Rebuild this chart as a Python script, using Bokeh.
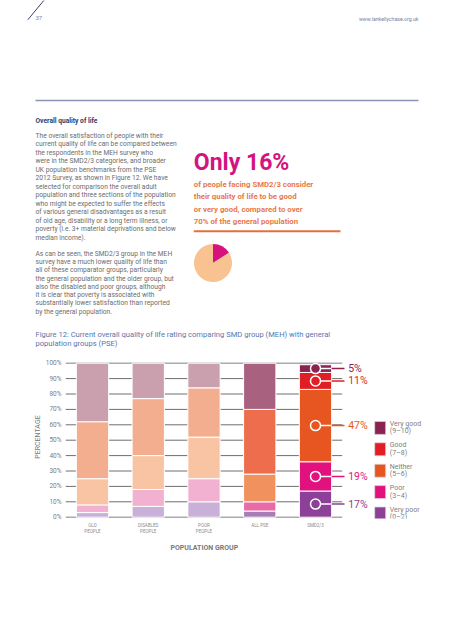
from bokeh.plotting import figure
from bokeh.models import Range1d, FixedTicker, Title
from bokeh.layouts import column
from bokeh.core.properties import value
from bokeh.embed import file_html
from bokeh.resources import INLINE
import math

FONT = "Roboto"

# ---------------- data ----------------
groups = ["OLD\nPEOPLE", "DISABLED\nPEOPLE", "POOR\nPEOPLE", "ALL PSE", "SMD2/3"]
group_kind = ["pse", "pse", "pse", "all", "smd"]
rating_names = ["Very poor", "Poor", "Neither", "Good", "Very good"]
rating_ranges = ["(0–2)", "(3–4)", "(5–6)", "(7–8)", "(9–10)"]
very_poor = [3, 7, 10, 4, 17]
poor = [5, 11, 15, 6, 19]
neither = [17, 22, 27, 18, 47]
good = [37, 37, 32, 42, 11]
very_good = [38, 23, 16, 30, 5]
y_ticks = [0, 10, 20, 30, 40, 50, 60, 70, 80, 90, 100]
pie_values = [16, 84]          # SMD2/3: good or very good vs the rest

palette = {
    "pse": ["#C8B0D8", "#F3B1D1", "#F8C4A3", "#F3AE8F", "#CAA0AF"],
    "all": ["#A77DB6", "#E86BA8", "#F0915E", "#ED6D4C", "#A8627F"],
    "smd": ["#8C4097", "#E1127E", "#E75620", "#E11E24", "#8A2252"],
}
pie_colors = ["#D8127D", "#F8C291"]

paragraph1 = [
    "The overall satisfaction of people with their",
    "current quality of life can be compared between",
    "the respondents in the MEH survey who",
    "were in the SMD2/3 categories, and broader",
    "UK population benchmarks from the PSE",
    "2012 Survey, as shown in Figure 12. We have",
    "selected for comparison the overall adult",
    "population and three sections of the population",
    "who might be expected to suffer the effects",
    "of various general disadvantages as a result",
    "of old age, disability or a long term illness, or",
    "poverty (i.e. 3+ material deprivations and below",
    "median income).",
]
paragraph2 = [
    "As can be seen, the SMD2/3 group in the MEH",
    "survey have a much lower quality of life than",
    "all of these comparator groups, particularly",
    "the general population and the older group, but",
    "also the disabled and poor groups, although",
    "it is clear that poverty is associated with",
    "substantially lower satisfaction than reported",
    "by the general population.",
]
callout_lines = [
    "of people facing SMD2/3 consider",
    "their quality of life to be good",
    "or very good, compared to over",
    "70% of the general population",
]
caption_lines = [
    "Figure 12: Current overall quality of life rating comparing SMD group (MEH) with general",
    "population groups (PSE)",
]

# ---------------- helpers ----------------
def txt(p, x, y, t, size, color, style="normal", align="left", baseline="middle"):
    p.text(x=[x], y=[y], text=[t], text_font=value(FONT), text_font_size=f"{size}px",
           text_color=color, text_font_style=style, text_align=align,
           text_baseline=baseline, level="annotation")

W = 437
LEFT = 65            # frame left edge (shared by both figures)
HA = 352             # height of the text figure
HB = 624 - HA        # height of the chart figure


def Y(r):
    return HA - r


# ---------------- top (text) figure ----------------
pa = figure(width=W, height=HA, x_range=Range1d(LEFT, W), y_range=Range1d(0, HA),
            output_backend="svg", toolbar_location=None,
            min_border_left=LEFT, min_border_right=0, min_border_top=0, min_border_bottom=0,
            x_axis_location=None, y_axis_location=None)
pa.grid.visible = False
pa.outline_line_color = None

pa.line(x=[27.3, 43.3], y=[Y(19.3), Y(0)], line_color="#3a4163", line_width=1, level="annotation")
txt(pa, 35, Y(17.5), "37", 6, "#7a809a")
txt(pa, 418, Y(18.5), "www.lankellychase.org.uk", 5.2, "#7a809a", align="right")
pa.line(x=[35, 418], y=[Y(100), Y(100)], line_color="#8c93b8", line_width=1.5, level="annotation")

txt(pa, 35, Y(120), "Overall quality of life", 6.7, "#2e3d70", style="bold")
for k, line in enumerate(paragraph1):
    txt(pa, 35, Y(135 + 8.53 * k), line, 6.7, "#6d6d6d")
for k, line in enumerate(paragraph2):
    txt(pa, 35, Y(253.3 + 8.25 * k), line, 6.7, "#6d6d6d")

txt(pa, 193.3, Y(161.5), f"Only {pie_values[0]}%", 23, "#D3147E", style="bold")
for k, line in enumerate(callout_lines):
    txt(pa, 193.3, Y(184 + 12.25 * k), line, 7.8, "#E9784A", style="bold")
pa.line(x=[193.3, 340], y=[Y(230.7), Y(230.7)], line_color="#E2703F", line_width=2, level="annotation")

# pie (clockwise from 12 o'clock)
total = sum(pie_values)
starts, ends, acc = [], [], 0
for v in pie_values:
    starts.append(math.pi / 2 - 2 * math.pi * acc / total)
    acc += v
    ends.append(math.pi / 2 - 2 * math.pi * acc / total)
pa.wedge(x=[212.5] * 2, y=[Y(262.5)] * 2, radius=19, radius_units="screen",
         start_angle=starts, end_angle=ends, direction="clock",
         fill_color=pie_colors, line_color=None, level="annotation")

for k, line in enumerate(caption_lines):
    txt(pa, 35, Y(334.3 + 9 * k), line, 7.6, "#5876ad")

# ---------------- chart figure ----------------
PX = 55.75                      # pixels per category step
C0 = 92                         # page x of the first bar centre
x0 = (LEFT - C0) / PX
x1 = (W - C0) / PX
frame_top, frame_h = 3, 163
ppu = 1.54
y_end = 100 + (362.7 - (HA + frame_top)) / ppu
y_start = y_end - frame_h / ppu

pb = figure(width=W, height=HB, x_range=Range1d(x0, x1), y_range=Range1d(y_start, y_end),
            output_backend="svg", toolbar_location=None,
            min_border_left=LEFT, min_border_right=0, min_border_top=frame_top,
            min_border_bottom=HB - frame_top - frame_h)
pb.grid.visible = False
pb.outline_line_color = None

# gridlines
last = len(groups) - 1
grid_end = last + (341.7 - (C0 + last * PX)) / PX
pb.segment(x0=[x0] * len(y_ticks), y0=y_ticks, x1=[grid_end] * len(y_ticks), y1=y_ticks,
           line_color=["#aaaaaa" if t in (0, 100) else "#6e6e6e" for t in y_ticks],
           line_width=[1.4 if t in (0, 100) else 1 for t in y_ticks])

# stacked bars
series = [very_poor, poor, neither, good, very_good]
bx, bb, bt, bc = [], [], [], []
for i in range(len(groups)):
    cum = 0
    for j, s in enumerate(series):
        bx.append(i)
        bb.append(cum)
        cum += s[i]
        bt.append(cum)
        bc.append(palette[group_kind[i]][j])
bar_w = 32.3 / PX
pb.vbar(x=bx, bottom=bb, top=bt, width=bar_w, fill_color=bc, line_color="white", line_width=1)

# SMD2/3 value callouts
si = last
mids, cum = [], 0
for s in series:
    mids.append(cum + s[si] / 2)
    cum += s[si]
smd_cols = palette["smd"]
edge = si + bar_w / 2
lab_end = si + 29 / PX
pb.segment(x0=[si] * 5, y0=mids, x1=[edge] * 5, y1=mids, line_color="white", line_width=1.5)
pb.segment(x0=[edge] * 5, y0=mids, x1=[lab_end] * 5, y1=mids, line_color=smd_cols, line_width=1.5)
pb.scatter(x=[si] * 5, y=mids, size=10, fill_color=smd_cols, line_color="white", line_width=1.5)
pb.text(x=[si + 32.7 / PX] * 5, y=mids, text=[f"{s[si]}%" for s in series],
        text_font=value(FONT), text_font_size="10.5px", text_color=smd_cols,
        text_align="left", text_baseline="middle")

# legend
leg_x = si + 64.7 / PX
leg_y = [2.4 + 13.9 * k for k in range(5)]
pb.rect(x=[leg_x] * 5, y=leg_y, width=11, height=13, width_units="screen", height_units="screen",
        fill_color=smd_cols, line_color="#dddddd", line_width=0.7)
tx = si + 74.3 / PX
pb.text(x=[tx] * 5, y=leg_y, text=rating_names, text_font=value(FONT), text_font_size="7px",
        text_color="#808080", text_align="left", text_baseline="middle", y_offset=-4)
pb.text(x=[tx] * 5, y=leg_y, text=rating_ranges, text_font=value(FONT), text_font_size="7px",
        text_color="#808080", text_align="left", text_baseline="middle", y_offset=3.5)

# axes
ya = pb.yaxis[0]
ya.ticker = FixedTicker(ticks=y_ticks)
ya.major_label_overrides = {t: f"{t}%" for t in y_ticks}
ya.axis_line_color = None
ya.major_tick_line_color = None
ya.minor_tick_line_color = None
ya.major_tick_out = 0
ya.major_tick_in = 0
ya.minor_tick_out = 0
ya.minor_tick_in = 0
ya.major_label_standoff = 4
ya.major_label_text_font = FONT
ya.major_label_text_font_size = "6.5px"
ya.major_label_text_color = "#7d7d7d"
ya.axis_label = "PERCENTAGE"
ya.axis_label_standoff = 1
ya.axis_label_text_font = FONT
ya.axis_label_text_font_size = "7px"
ya.axis_label_text_font_style = "normal"
ya.axis_label_text_color = "#7a7a7a"

xa = pb.xaxis[0]
xa.ticker = FixedTicker(ticks=list(range(len(groups))))
xa.major_label_overrides = {i: g for i, g in enumerate(groups)}
xa.axis_line_color = None
xa.major_tick_line_color = None
xa.minor_tick_line_color = None
xa.major_tick_out = 0
xa.major_tick_in = 0
xa.minor_tick_out = 0
xa.minor_tick_in = 0
xa.major_label_standoff = 4
xa.major_label_text_font = FONT
xa.major_label_text_font_size = "4.5px"
xa.major_label_text_color = "#8a8a8a"

pb.add_layout(Title(text="POPULATION GROUP", align="left", offset=105,
                    text_font=FONT, text_font_size="7px", text_font_style="bold",
                    text_color="#7a7a7a"), "below")

layout = column(pa, pb, spacing=0)
open("out.html", "w").write(file_html(layout, INLINE))
